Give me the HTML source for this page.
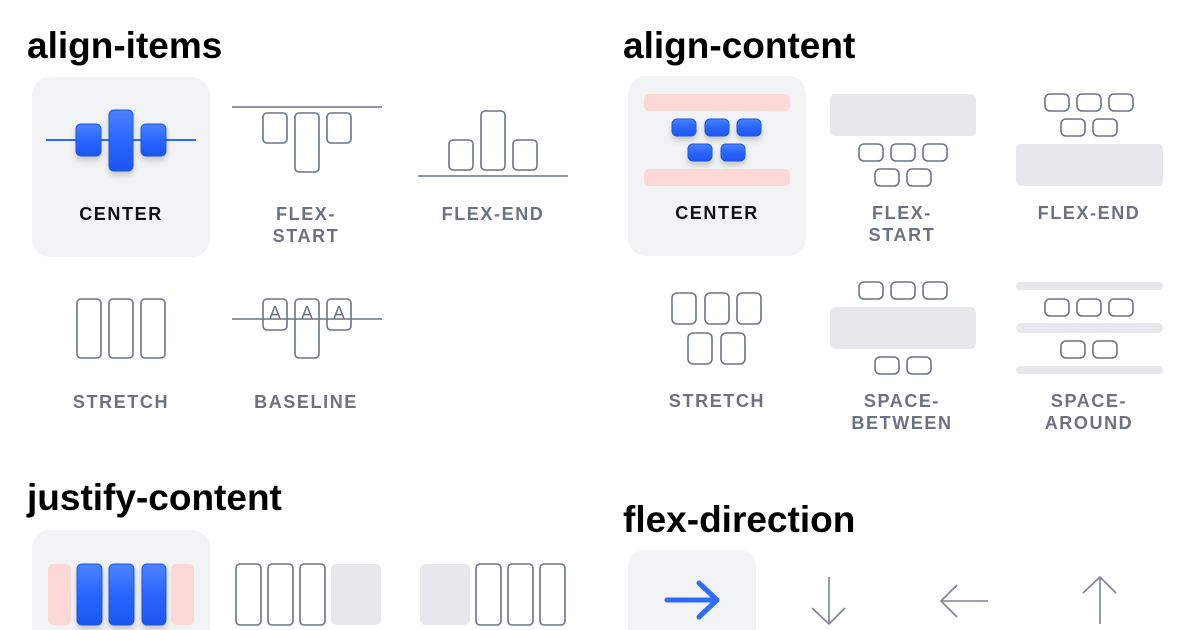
<!DOCTYPE html>
<html><head><meta charset="utf-8"><style>
html,body{margin:0;padding:0;background:#fff;width:1200px;height:630px;overflow:hidden}
svg{display:block}
.h{font-family:"Liberation Sans",sans-serif;font-weight:bold;font-size:37px;fill:#000;letter-spacing:0px}
.l{font-family:"Liberation Sans",sans-serif;font-weight:bold;font-size:18px;fill:#6b7380;letter-spacing:1.6px;text-anchor:middle}
.la{fill:#111}
.o{fill:#fff;stroke:#6b7585;stroke-width:1.6}
.ln{stroke:#6b7585;stroke-width:1.6}
.g{fill:#e6e8ec}
.p{fill:#fcd9d6}
.card{fill:#f2f3f5}
.aa{font-family:"Liberation Sans",sans-serif;font-size:18px;font-weight:normal;fill:#6b7585;text-anchor:middle}
</style></head><body>
<svg width="1200" height="630" viewBox="0 0 1200 630" xmlns="http://www.w3.org/2000/svg">
<defs>
<filter id="sh" x="-50%" y="-50%" width="200%" height="200%"><feDropShadow dx="0" dy="4" stdDeviation="3" flood-color="#000" flood-opacity="0.18"/></filter>
<linearGradient id="bg" x1="0" y1="0" x2="0" y2="1"><stop offset="0" stop-color="#4a82ff"/><stop offset="0.5" stop-color="#2a66ff"/><stop offset="1" stop-color="#1c55ee"/></linearGradient>
</defs>
<text class="h" x="27" y="58">align-items</text>
<text class="h" x="623" y="58">align-content</text>
<text class="h" x="27" y="510">justify-content</text>
<text class="h" x="623" y="532">flex-direction</text>

<!-- align-items -->
<rect class="card" x="32" y="77" width="178" height="180" rx="18"/>
<line x1="46" y1="140" x2="196" y2="140" stroke="#2f6bff" stroke-width="2"/>
<g filter="url(#sh)" fill="url(#bg)" stroke="#1f56e6">
<rect x="76" y="124" width="25" height="32" rx="5"/>
<rect x="109" y="110" width="24" height="61" rx="5"/>
<rect x="141" y="124" width="25" height="32" rx="5"/>
</g>
<text class="l la" x="121" y="220">CENTER</text>

<line class="ln" x1="232" y1="107" x2="382" y2="107"/>
<rect class="o" x="263" y="113" width="24" height="30" rx="4"/>
<rect class="o" x="295" y="113" width="24" height="59" rx="4"/>
<rect class="o" x="327" y="113" width="24" height="30" rx="4"/>
<text class="l" x="306" y="220">FLEX-</text>
<text class="l" x="306" y="242">START</text>

<line class="ln" x1="418" y1="176" x2="568" y2="176"/>
<rect class="o" x="449" y="140" width="24" height="30" rx="4"/>
<rect class="o" x="481" y="111" width="24" height="59" rx="4"/>
<rect class="o" x="513" y="140" width="24" height="30" rx="4"/>
<text class="l" x="493" y="220">FLEX-END</text>

<rect class="o" x="77" y="299" width="24" height="59" rx="4"/>
<rect class="o" x="109" y="299" width="24" height="59" rx="4"/>
<rect class="o" x="141" y="299" width="24" height="59" rx="4"/>
<text class="l" x="121" y="408">STRETCH</text>

<rect class="o" x="263" y="299" width="24" height="31" rx="4"/>
<rect class="o" x="295" y="299" width="24" height="59" rx="4"/>
<rect class="o" x="327" y="299" width="24" height="31" rx="4"/>
<line class="ln" x1="232" y1="319" x2="382" y2="319"/>
<text class="aa" x="275" y="319">A</text>
<text class="aa" x="307" y="319">A</text>
<text class="aa" x="339" y="319">A</text>
<text class="l" x="306" y="408">BASELINE</text>

<!-- align-content -->
<rect class="card" x="628" y="76" width="178" height="180" rx="18"/>
<rect class="p" x="644" y="94" width="146" height="17" rx="5"/>
<rect class="p" x="644" y="169" width="146" height="17" rx="5"/>
<g filter="url(#sh)" fill="url(#bg)" stroke="#1f56e6">
<rect x="672" y="119" width="24" height="17" rx="5"/>
<rect x="705" y="119" width="24" height="17" rx="5"/>
<rect x="737" y="119" width="24" height="17" rx="5"/>
<rect x="688" y="144" width="24" height="17" rx="5"/>
<rect x="721" y="144" width="24" height="17" rx="5"/>
</g>
<text class="l la" x="717" y="219">CENTER</text>

<rect class="g" x="830" y="94" width="146" height="42" rx="5"/>
<rect class="o" x="859" y="144" width="24" height="17" rx="5"/>
<rect class="o" x="891" y="144" width="24" height="17" rx="5"/>
<rect class="o" x="923" y="144" width="24" height="17" rx="5"/>
<rect class="o" x="875" y="169" width="24" height="17" rx="5"/>
<rect class="o" x="907" y="169" width="24" height="17" rx="5"/>
<text class="l" x="902" y="219">FLEX-</text>
<text class="l" x="902" y="241">START</text>

<rect class="o" x="1045" y="94" width="24" height="17" rx="5"/>
<rect class="o" x="1077" y="94" width="24" height="17" rx="5"/>
<rect class="o" x="1109" y="94" width="24" height="17" rx="5"/>
<rect class="o" x="1061" y="119" width="24" height="17" rx="5"/>
<rect class="o" x="1093" y="119" width="24" height="17" rx="5"/>
<rect class="g" x="1016" y="144" width="147" height="42" rx="5"/>
<text class="l" x="1089" y="219">FLEX-END</text>

<rect class="o" x="672" y="293" width="24" height="31" rx="5"/>
<rect class="o" x="705" y="293" width="24" height="31" rx="5"/>
<rect class="o" x="737" y="293" width="24" height="31" rx="5"/>
<rect class="o" x="688" y="333" width="24" height="31" rx="5"/>
<rect class="o" x="721" y="333" width="24" height="31" rx="5"/>
<text class="l" x="717" y="407">STRETCH</text>

<rect class="o" x="859" y="282" width="24" height="17" rx="5"/>
<rect class="o" x="891" y="282" width="24" height="17" rx="5"/>
<rect class="o" x="923" y="282" width="24" height="17" rx="5"/>
<rect class="g" x="830" y="307" width="146" height="42" rx="5"/>
<rect class="o" x="875" y="357" width="24" height="17" rx="5"/>
<rect class="o" x="907" y="357" width="24" height="17" rx="5"/>
<text class="l" x="902" y="407">SPACE-</text>
<text class="l" x="902" y="429">BETWEEN</text>

<rect class="g" x="1016" y="282" width="147" height="8" rx="4"/>
<rect class="o" x="1045" y="299" width="24" height="17" rx="5"/>
<rect class="o" x="1077" y="299" width="24" height="17" rx="5"/>
<rect class="o" x="1109" y="299" width="24" height="17" rx="5"/>
<rect class="g" x="1016" y="323" width="147" height="10" rx="5"/>
<rect class="o" x="1061" y="341" width="24" height="17" rx="5"/>
<rect class="o" x="1093" y="341" width="24" height="17" rx="5"/>
<rect class="g" x="1016" y="366" width="147" height="8" rx="4"/>
<text class="l" x="1089" y="407">SPACE-</text>
<text class="l" x="1089" y="429">AROUND</text>

<!-- justify-content -->
<rect class="card" x="32" y="530" width="178" height="120" rx="18"/>
<rect class="p" x="48" y="564" width="23" height="61" rx="5"/>
<rect class="p" x="171" y="564" width="23" height="61" rx="5"/>
<g filter="url(#sh)" fill="url(#bg)" stroke="#1f56e6">
<rect x="77" y="564" width="25" height="61" rx="5"/>
<rect x="109" y="564" width="25" height="61" rx="5"/>
<rect x="142" y="564" width="24" height="61" rx="5"/>
</g>
<rect class="o" x="236" y="564" width="25" height="61" rx="4"/>
<rect class="o" x="268" y="564" width="25" height="61" rx="4"/>
<rect class="o" x="300" y="564" width="25" height="61" rx="4"/>
<rect class="g" x="331" y="564" width="50" height="61" rx="5"/>
<rect class="g" x="420" y="564" width="50" height="61" rx="5"/>
<rect class="o" x="476" y="564" width="25" height="61" rx="4"/>
<rect class="o" x="508" y="564" width="25" height="61" rx="4"/>
<rect class="o" x="540" y="564" width="25" height="61" rx="4"/>

<!-- flex-direction -->
<rect class="card" x="628" y="550" width="128" height="100" rx="16"/>
<g stroke="#2f6bff" stroke-width="5" stroke-linecap="round" stroke-linejoin="round" fill="none">
<line x1="667" y1="600" x2="716" y2="600"/><polyline points="699,583 717,600 699,617"/></g>
<g stroke="#7a8494" stroke-width="1.6" fill="none">
<line x1="829" y1="577" x2="829" y2="624"/><polyline points="812,608 829,624 845,608"/>
<line x1="941" y1="601" x2="988" y2="601"/><polyline points="957,585 941,601 957,617"/>
<line x1="1100" y1="577" x2="1100" y2="624"/><polyline points="1083,593 1100,577 1116,593"/>
</g>
</svg>
</body></html>
